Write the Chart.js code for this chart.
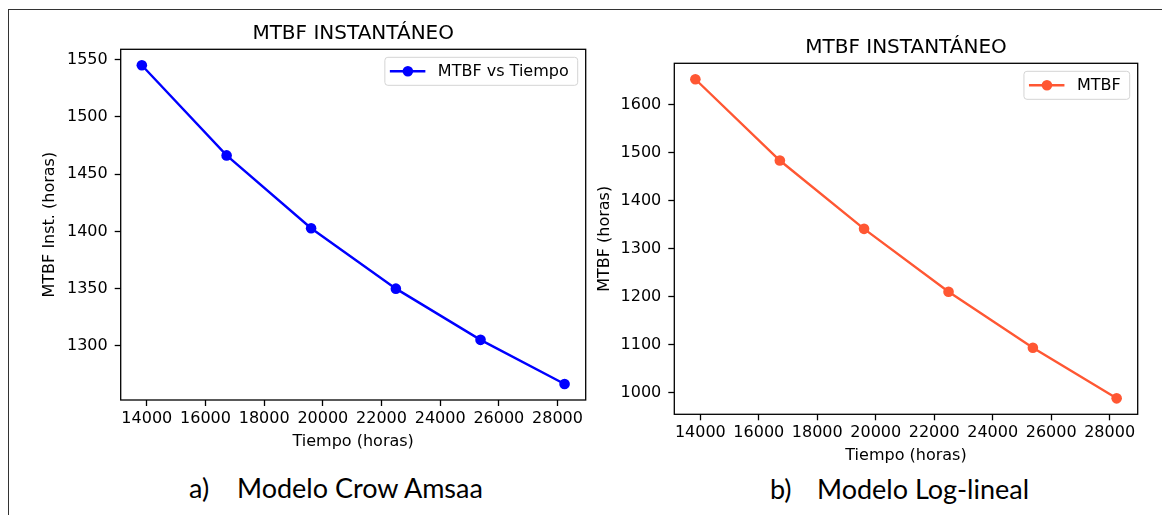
<!DOCTYPE html>
<html>
<head>
<meta charset="utf-8">
<script src="https://cdn.jsdelivr.net/npm/chart.js@4.4.1/dist/chart.umd.min.js"></script>
<style>
  html, body { margin: 0; padding: 0; background: #fff; }
  body { width: 1162px; height: 515px; position: relative; overflow: hidden; }
  #marco { position: absolute; left: 8px; top: 9px; right: 0; bottom: 0; border-left: 1px solid #333; border-top: 1px solid #333; }
  canvas { position: absolute; }
  #graficoCrow { left: 10px; top: 10px; }
  #graficoLog { left: 590px; top: 10px; }
  .pie { position: absolute; font-family: Lato, "Open Sans", sans-serif; font-size: 27px; line-height: 27px; color: #000; white-space: nowrap; }
</style>
</head>
<body>
<div id="marco"></div>
<canvas id="graficoCrow" width="585" height="455"></canvas>
<canvas id="graficoLog" width="572" height="460"></canvas>
<div class="pie" style="left:189px; top:474px">a)</div>
<div class="pie" style="left:237px; top:474px">Modelo Crow Amsaa</div>
<div class="pie" style="left:770px; top:475px">b)</div>
<div class="pie" style="left:817px; top:475px">Modelo Log-lineal</div>
<script>
    // Datos
    const tiempos = [13830, 16720, 19600, 22490, 25375, 28240];
    const mtbfCrow = [1545.0, 1466.3, 1402.7, 1350.0, 1305.3, 1266.7];
    const mtbfLog = [1652.7, 1483.3, 1340.8, 1209.6, 1092.9, 987.5];
    const ticksTiempo = [14000, 16000, 18000, 20000, 22000, 24000, 26000, 28000];
    const ticksCrow = [1300, 1350, 1400, 1450, 1500, 1550];
    const ticksLog = [1000, 1100, 1200, 1300, 1400, 1500, 1600];

    Chart.defaults.font.family = "'DejaVu Sans', sans-serif";
    Chart.defaults.color = '#000';

    // margen de 5% como matplotlib
    function margen(vals) {
        const lo = Math.min(...vals), hi = Math.max(...vals);
        const d = (hi - lo) * 0.05;
        return { min: lo - d, max: hi + d };
    }

    // recuadro de los ejes
    const marcoEjes = {
        id: 'marcoEjes',
        afterDraw(chart) {
            const { ctx, chartArea: a } = chart;
            ctx.save();
            ctx.strokeStyle = '#000';
            ctx.lineWidth = 1.3;
            ctx.strokeRect(a.left, a.top, a.right - a.left, a.bottom - a.top);
            ctx.restore();
        }
    };

    // titulo centrado sobre el area de ejes
    const tituloEjes = {
        id: 'tituloEjes',
        afterDraw(chart, args, opts) {
            const { ctx, chartArea: a } = chart;
            ctx.save();
            ctx.font = '20px "DejaVu Sans"';
            ctx.fillStyle = '#000';
            ctx.textAlign = 'center';
            ctx.textBaseline = 'alphabetic';
            ctx.fillText(opts.text, (a.left + a.right) / 2, a.top - 10);
            ctx.restore();
        }
    };

    // leyenda dentro del grafico, arriba a la derecha
    const leyendaDentro = {
        id: 'leyendaDentro',
        afterDraw(chart) {
            const { ctx, chartArea: a } = chart;
            const ds = chart.data.datasets[0];
            ctx.save();
            ctx.font = '16px "DejaVu Sans"';
            const tw = ctx.measureText(ds.label).width;
            const w = tw + 62, h = 28;
            const x0 = a.right - 8 - w, y0 = a.top + 8;
            ctx.beginPath();
            ctx.roundRect(x0, y0, w, h, 3);
            ctx.fillStyle = 'rgba(255,255,255,0.8)';
            ctx.fill();
            ctx.strokeStyle = '#d4d4d4';
            ctx.lineWidth = 1;
            ctx.stroke();
            const cy = y0 + h / 2;
            ctx.beginPath();
            ctx.moveTo(x0 + 5, cy);
            ctx.lineTo(x0 + 40.5, cy);
            ctx.strokeStyle = ds.borderColor;
            ctx.lineWidth = ds.borderWidth;
            ctx.stroke();
            ctx.beginPath();
            ctx.arc(x0 + 23, cy, ds.pointRadius, 0, Math.PI * 2);
            ctx.fillStyle = ds.borderColor;
            ctx.fill();
            ctx.fillStyle = '#000';
            ctx.textAlign = 'left';
            ctx.textBaseline = 'middle';
            ctx.fillText(ds.label, x0 + 53, cy + 1);
            ctx.restore();
        }
    };

    function crearGrafico(id, cfg) {
        const rx = margen(tiempos);
        const ry = margen(cfg.valores);
        return new Chart(document.getElementById(id), {
            type: 'line',
            data: {
                datasets: [{
                    label: cfg.etiqueta,
                    data: tiempos.map((t, i) => ({ x: t, y: cfg.valores[i] })),
                    borderColor: cfg.color,
                    backgroundColor: cfg.color,
                    borderWidth: 2.4,
                    pointRadius: 5.3,
                    pointHoverRadius: 5.3,
                    pointBorderWidth: 0,
                    pointBackgroundColor: cfg.color,
                    tension: 0,
                    fill: false
                }]
            },
            options: {
                responsive: false,
                animation: false,
                devicePixelRatio: 1,
                layout: { padding: { left: 0, top: cfg.padTop, right: cfg.padRight, bottom: 0 } },
                scales: {
                    x: {
                        type: 'linear',
                        min: rx.min,
                        max: rx.max,
                        afterFit: s => { s.height = cfg.altoX; },
                        afterBuildTicks: s => { s.ticks = ticksTiempo.map(v => ({ value: v })); },
                        grid: { display: true, drawOnChartArea: false, drawTicks: true, tickLength: 6, tickWidth: 1.3, tickColor: '#000' },
                        border: { display: false },
                        ticks: { padding: 3, font: { size: 16 }, color: '#000', maxRotation: 0, autoSkip: false, callback: v => String(v) },
                        title: { display: true, text: 'Tiempo (horas)', font: { size: 16 }, color: '#000', padding: { top: 0, bottom: cfg.padTituloX } }
                    },
                    y: {
                        type: 'linear',
                        min: ry.min,
                        max: ry.max,
                        afterFit: s => { s.width = cfg.anchoY; },
                        afterBuildTicks: s => { s.ticks = cfg.ticksY.map(v => ({ value: v })); },
                        grid: { display: true, drawOnChartArea: false, drawTicks: true, tickLength: 6, tickWidth: 1.3, tickColor: '#000' },
                        border: { display: false },
                        ticks: { padding: 7, font: { size: 16 }, color: '#000', autoSkip: false, callback: v => String(v) },
                        title: { display: true, text: cfg.tituloY, font: { size: 16 }, color: '#000', padding: { top: cfg.padTituloY, bottom: 0 } }
                    }
                },
                plugins: {
                    legend: { display: false },
                    title: { display: false },
                    tooltip: { enabled: false },
                    tituloEjes: { text: 'MTBF INSTANTÁNEO' }
                }
            },
            plugins: [marcoEjes, tituloEjes, leyendaDentro]
        });
    }

    crearGrafico('graficoCrow', {
        valores: mtbfCrow,
        etiqueta: 'MTBF vs Tiempo',
        color: '#0000ff',
        ticksY: ticksCrow,
        tituloY: 'MTBF Inst. (horas)',
        anchoY: 110.7,
        padTop: 39.3,
        padRight: 9.3,
        altoX: 65,
        padTituloX: 13.7,
        padTituloY: 29.9
    });

    crearGrafico('graficoLog', {
        valores: mtbfLog,
        etiqueta: 'MTBF',
        color: '#ff5733',
        ticksY: ticksLog,
        tituloY: 'MTBF (horas)',
        anchoY: 84.3,
        padTop: 53.3,
        padRight: 24.3,
        altoX: 55.7,
        padTituloX: 4.4,
        padTituloY: 5.4
    });
</script>
</body>
</html>
